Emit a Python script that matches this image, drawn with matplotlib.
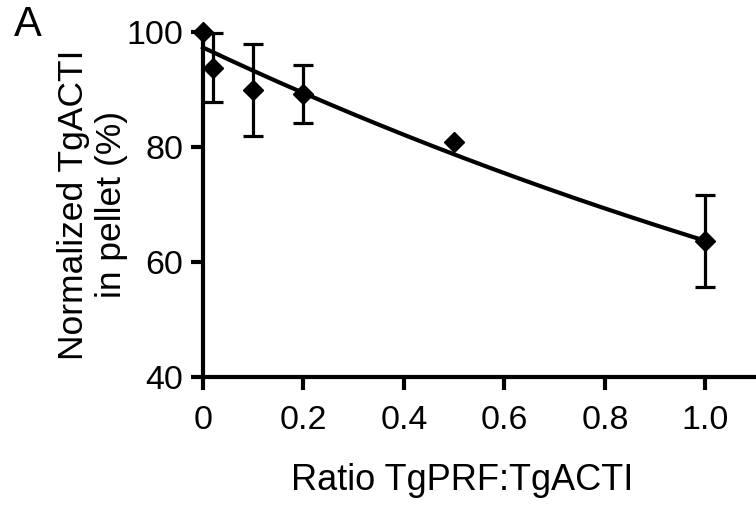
import numpy as np
import matplotlib
matplotlib.use("Agg")
import matplotlib.pyplot as plt

plt.rcParams['font.family'] = ['Liberation Sans', 'DejaVu Sans']

# Data
ratio = [0.0, 0.02, 0.1, 0.2, 0.5, 1.0]
pellet = [100.0, 93.8, 89.9, 89.2, 80.9, 63.7]
err = [0.0, 6.0, 8.0, 5.0, 0.0, 8.0]
# exponential fit parameters (y = y0 * exp(-k x))
fit_y0 = 97.3
fit_k = 0.424

x_ticks = [0, 0.2, 0.4, 0.6, 0.8, 1.0]
x_ticklabels = ["0", "0.2", "0.4", "0.6", "0.8", "1.0"]
y_ticks = [40, 60, 80, 100]

fig = plt.figure(figsize=(7.56, 5.08), dpi=100)
ax = fig.add_axes([0.2685, 0.258, 0.731, 0.679])

xf = np.linspace(0, 1.0, 200)
ax.plot(xf, fit_y0 * np.exp(-fit_k * xf), color='black', lw=3, clip_on=False, zorder=2)

for xi, yi, ei in zip(ratio, pellet, err):
    if ei > 0:
        ax.errorbar(xi, yi, yerr=ei, fmt='none', ecolor='black', elinewidth=2.3,
                    capsize=7.5, capthick=2.3, clip_on=False, zorder=3)
ax.plot(ratio, pellet, linestyle='none', marker='D', markersize=10,
        color='black', clip_on=False, zorder=4)

ax.set_xlim(0, 1.1)
ax.set_ylim(40, 100)
ax.set_xticks(x_ticks)
ax.set_xticklabels(x_ticklabels)
ax.set_yticks(y_ticks)

for s in ['top', 'right']:
    ax.spines[s].set_visible(False)
for s in ['left', 'bottom']:
    ax.spines[s].set_linewidth(3)
ax.tick_params(axis='both', which='major', direction='out', length=9, width=3,
               labelsize=24.5, color='black')
ax.tick_params(axis='y', pad=5)
ax.tick_params(axis='x', pad=11)

ax.set_xlabel("Ratio TgPRF:TgACTI", fontsize=26)
ax.xaxis.set_label_coords(0.469, -0.249)
ax.set_ylabel("Normalized TgACTI\nin pellet (%)", fontsize=25.5,
              linespacing=1.2)
ax.yaxis.set_label_coords(-0.136, 0.5)

fig.text(0.018, 0.99, "A", fontsize=30, va='top', ha='left')

fig.savefig("out.png", dpi=100)
